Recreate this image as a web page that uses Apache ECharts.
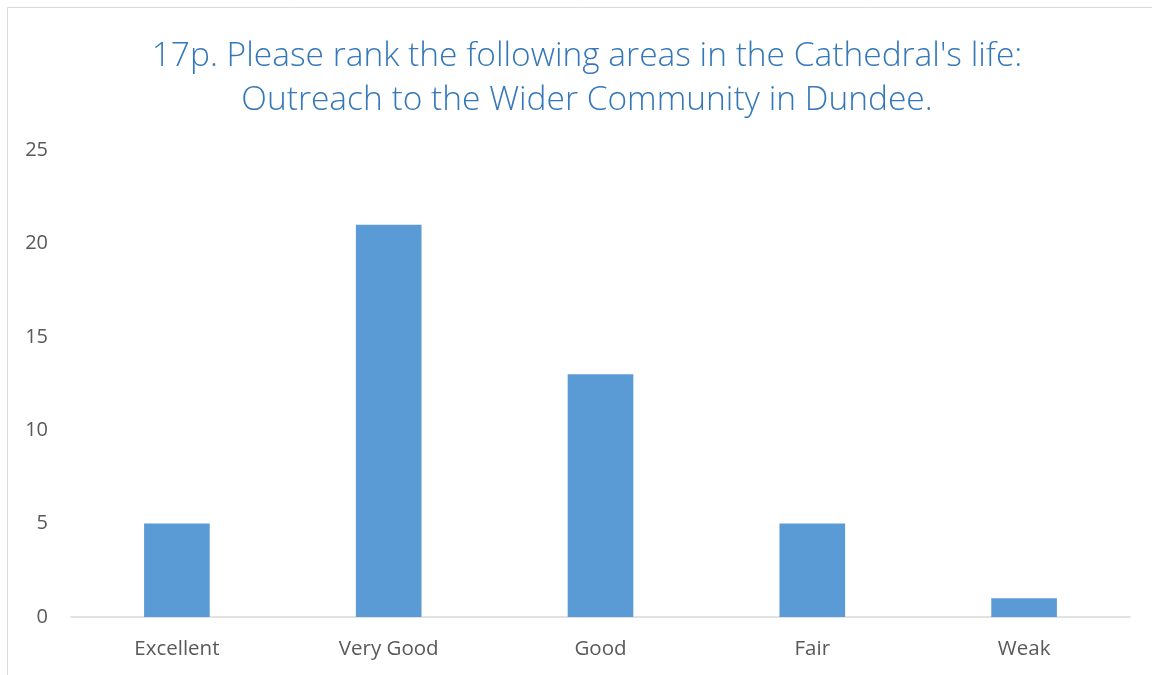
<!DOCTYPE html>
<html><head><meta charset="utf-8">
<script src="https://cdn.jsdelivr.net/npm/echarts@6/dist/echarts.min.js"></script>
<style>html,body{margin:0;padding:0;background:#fff}#c{width:1152px;height:675px}</style>
</head><body><div id="c"></div>
<script>
const titleLines = ["17p. Please rank the following areas in the Cathedral's life:", "Outreach to the Wider Community in Dundee."];
const categories = ["Excellent", "Very Good", "Good", "Fair", "Weak"];
const values = [5, 21, 13, 5, 1];
const yTicks = {min: 0, max: 25, interval: 5};

const chart = echarts.init(document.getElementById('c'));
chart.setOption({
  animation: false,
  backgroundColor: '#fff',
  graphic: [{type: 'rect', shape: {x: 7.5, y: 7.5, width: 1160, height: 680}, style: {fill: 'none', stroke: '#D9D9D9', lineWidth: 1}}],
  title: {
    text: titleLines.join('\n'),
    left: 582, top: 29, textAlign: 'center',
    textStyle: {fontFamily: 'Open Sans', fontWeight: 300, fontSize: 33.5, color: '#3478BA', lineHeight: 44}
  },
  grid: {left: 71, right: 22, top: 150, bottom: 58, containLabel: false},
  xAxis: {
    type: 'category', data: categories,
    axisLine: {lineStyle: {color: '#D9D9D9', width: 1.5}},
    axisTick: {show: false},
    axisLabel: {color: '#595959', fontFamily: 'Open Sans', fontSize: 20.5, margin: 22}
  },
  yAxis: {
    type: 'value', min: yTicks.min, max: yTicks.max, interval: yTicks.interval,
    axisLine: {show: false}, axisTick: {show: false}, splitLine: {show: false},
    axisLabel: {color: '#595959', fontFamily: 'Open Sans', fontSize: 20, margin: 23}
  },
  series: [{type: 'bar', data: values, barWidth: '31%', itemStyle: {color: '#5B9BD5'}}]
});
</script></body></html>
